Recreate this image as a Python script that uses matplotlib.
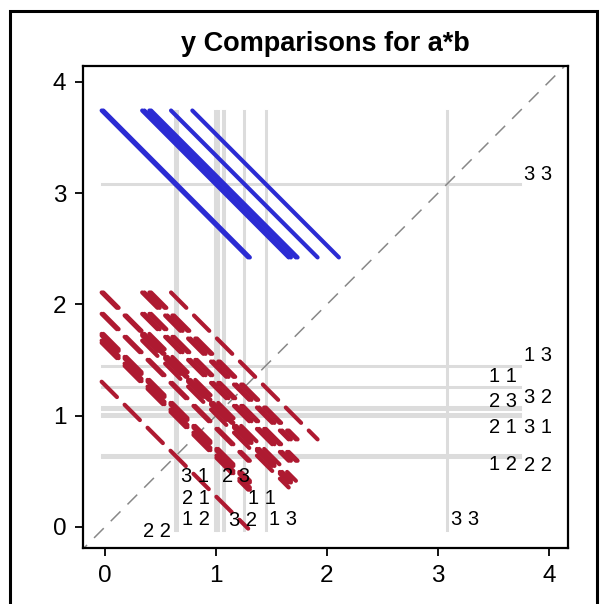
import matplotlib
matplotlib.use('Agg')
import matplotlib.pyplot as plt
from matplotlib.patches import Rectangle

# Least squares means of y for each a*b cell
cells = ['1 1', '1 2', '1 3', '2 1', '2 2', '2 3', '3 1', '3 2', '3 3']
means = [1.255, 0.645, 1.447, 0.995, 0.630, 1.060, 1.015, 1.075, 3.082]
ci_half = 0.66  # half length of every comparison segment (balanced design)

title = 'y Comparisons for a*b'
ticks = [0, 1, 2, 3, 4]

# label placement (text only)
bottom_labels = {'2 2': (0.47, -0.04), '1 2': (0.815, 0.063), '2 1': (0.815, 0.26),
                 '3 1': (0.815, 0.452), '2 3': (1.18, 0.452), '1 1': (1.414, 0.26),
                 '3 2': (1.243, 0.054), '1 3': (1.604, 0.063), '3 3': (3.243, 0.063)}
right_labels = {'3 3': (3.90, 3.17), '1 3': (3.90, 1.545), '1 1': (3.586, 1.35),
                '3 2': (3.90, 1.159), '2 3': (3.586, 1.123), '2 1': (3.586, 0.898),
                '3 1': (3.90, 0.898), '1 2': (3.586, 0.557), '2 2': (3.90, 0.548)}

BLUE = '#2B2BD3'
RED = '#AE1A31'
REF = '#DCDCDC'


def main():
    plt.rcParams['font.family'] = ['Liberation Sans', 'DejaVu Sans']
    fig = plt.figure(figsize=(6.05, 6.04), dpi=100)
    ax = fig.add_axes([83 / 605, 1 - 548 / 604, 485 / 605, 482 / 604])

    lo = min(means) - ci_half
    hi = max(means) + ci_half

    # reference lines at every mean
    for m in means:
        ax.plot([m, m], [lo, hi], color=REF, lw=2.2, zorder=1)
        ax.plot([lo, hi], [m, m], color=REF, lw=2.2, zorder=1)

    # diagonal
    ax.plot([-1, 5], [-1, 5], color='#888888', lw=1.1, dashes=(9, 6.5), zorder=2)

    # one segment per pair, centred at (smaller mean, larger mean)
    for i in range(len(means)):
        for j in range(i + 1, len(means)):
            cx, cy = sorted([means[i], means[j]])
            xs = [cx - ci_half, cx + ci_half]
            ys = [cy + ci_half, cy - ci_half]
            if cy - cx > 2 * ci_half:
                ax.plot(xs, ys, color=BLUE, lw=3, solid_capstyle='round', zorder=4)
            else:
                ax.plot(xs, ys, color=RED, lw=3, dashes=(5.2, 2.6),
                        dash_capstyle='round', zorder=3)

    for lab, (x, y) in bottom_labels.items():
        ax.text(x, y, lab, ha='center', va='center', fontsize=14.5, zorder=5)
    for lab, (x, y) in right_labels.items():
        ax.text(x, y, lab, ha='center', va='center', fontsize=14.5, zorder=5)

    ax.set_xlim(-0.198, 4.171)
    ax.set_ylim(-0.189, 4.142)
    ax.set_xticks(ticks)
    ax.set_yticks(ticks)
    ax.tick_params(labelsize=17.5, length=6, width=1.3, direction='out', pad=6)
    for s in ax.spines.values():
        s.set_linewidth(1.6)
    fig.text(0.537, 1 - 44 / 604, title, ha='center', va='center',
             fontsize=19.5, fontweight='bold')

    fig.patches.append(Rectangle((9.5 / 605, -0.05), 587.5 / 605, 1.05 - 10.5 / 604,
                                 transform=fig.transFigure, fill=False, lw=2.2,
                                 ec='black', zorder=10))

    fig.savefig('out.png', dpi=100)


if __name__ == "__main__":
    main()
